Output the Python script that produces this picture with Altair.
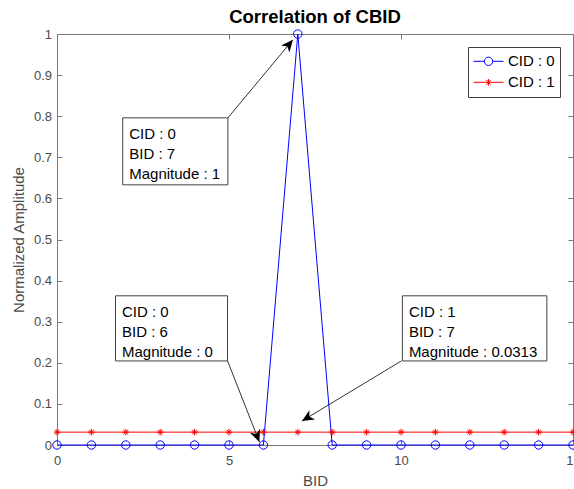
import math
import altair as alt
import pandas as pd

# ---------------- data ----------------
bid = [0, 1, 2, 3, 4, 5, 6, 7, 8, 9, 10, 11, 12, 13, 14, 15]
cid0 = [0, 0, 0, 0, 0, 0, 0, 1, 0, 0, 0, 0, 0, 0, 0, 0]
cid1 = [0.0313, 0.0313, 0.0313, 0.0313, 0.0313, 0.0313, 0.0313, 0.0313,
        0.0313, 0.0313, 0.0313, 0.0313, 0.0313, 0.0313, 0.0313, 0.0313]
series_labels = ["CID : 0", "CID : 1"]

x_ticks = [0, 5, 10, 15]
y_ticks = [0, 0.1, 0.2, 0.3, 0.4, 0.5, 0.6, 0.7, 0.8, 0.9, 1]

ann_text = ["CID : 0\nBID : 7\nMagnitude : 1",
            "CID : 0\nBID : 6\nMagnitude : 0",
            "CID : 1\nBID : 7\nMagnitude : 0.0313"]
ann_left = [1.91, 1.70, 10.04]
ann_right = [4.967, 4.958, 14.24]
ann_top = [0.796, 0.363, 0.363]
ann_bottom = [0.633, 0.2045, 0.2045]
tail_x = [4.967, 4.958, 10.01]
tail_y = [0.796, 0.2045, 0.2045]
tip_x = [6.858, 5.883, 7.12]
tip_y = [0.986, 0.0073, 0.0584]

# ---------------- layout ----------------
W, H = 516, 411
XMAX, YMAX = 15, 1
FONT = "Liberation Sans"
AX = "#7a7a7a"
TXT = "#4a4a4a"
BOX = "#404040"
BLUE = "#0000ff"
RED = "#ff0000"

df = pd.DataFrame({
    "BID": bid + bid,
    "Amp": cid0 + cid1,
    "CID": [series_labels[0]] * len(bid) + [series_labels[1]] * len(bid),
})

# arrow head orientation in screen space
angles = []
for tx0, ty0, tx1, ty1 in zip(tail_x, tail_y, tip_x, tip_y):
    dx = (tx1 - tx0) * W / XMAX
    dy = -(ty1 - ty0) * H / YMAX
    angles.append(math.degrees(math.atan2(dx, -dy)) % 360)

ann = pd.DataFrame({
    "text": ann_text, "left": ann_left, "right": ann_right,
    "top": ann_top, "bottom": ann_bottom,
    "tx": tail_x, "ty": tail_y, "hx": tip_x, "hy": tip_y, "angle": angles,
})

xs = alt.Scale(domain=[0, XMAX], nice=False, zero=False)
ys = alt.Scale(domain=[0, YMAX], nice=False, zero=False)

common_axis = dict(domain=False, grid=False, tickColor=AX, tickWidth=1,
                   tickSize=5, offset=-5, labelFont=FONT, labelFontSize=13,
                   labelColor=TXT, titleFont=FONT, titleFontSize=15,
                   titleColor=TXT, titleFontWeight="normal")

x_bottom = alt.Axis(orient="bottom", values=x_ticks, format="d", labelPadding=9,
                    labelFlush=False, title="BID", titleX=W / 2, titleY=45,
                    titleBaseline="alphabetic", **common_axis)
y_left = alt.Axis(orient="left", values=y_ticks, format="~g", labelPadding=5.5,
                  title="Normalized Amplitude", titleX=-38.7, titleY=H / 2,
                  titleAngle=270, titleBaseline="alphabetic", titleAlign="center",
                  **common_axis)
x_top = alt.Axis(orient="top", values=x_ticks, labels=False, title=None, **common_axis)
y_right = alt.Axis(orient="right", values=y_ticks, labels=False, title=None, **common_axis)

s0 = alt.datum.CID == series_labels[0]
s1 = alt.datum.CID == series_labels[1]

line0 = alt.Chart(df).transform_filter(s0).mark_line(color=BLUE, strokeWidth=1).encode(
    x=alt.X("BID:Q", scale=xs, axis=x_bottom),
    y=alt.Y("Amp:Q", scale=ys, axis=y_left),
)
pts0 = alt.Chart(df).transform_filter(s0).mark_point(
    shape="circle", size=70, filled=False, color=BLUE, strokeWidth=1, opacity=1).encode(
    x=alt.X("BID:Q", scale=xs, axis=x_top),
    y=alt.Y("Amp:Q", scale=ys, axis=y_right),
)
line1 = alt.Chart(df).transform_filter(s1).mark_line(color=RED, strokeWidth=1).encode(
    x=alt.X("BID:Q", scale=xs, axis=None),
    y=alt.Y("Amp:Q", scale=ys, axis=None),
)
STAR = "M-1,0L1,0M0,-1L0,1M-0.7,-0.7L0.7,0.7M-0.7,0.7L0.7,-0.7"
pts1 = alt.Chart(df).transform_filter(s1).mark_point(
    shape=STAR, size=45, filled=False, color=RED, strokeWidth=1, opacity=1).encode(
    x=alt.X("BID:Q", scale=xs, axis=None),
    y=alt.Y("Amp:Q", scale=ys, axis=None),
)

boxes = alt.Chart(ann).mark_rect(fill="white", stroke=BOX, strokeWidth=1).encode(
    x=alt.X("left:Q", scale=xs, axis=None), x2="right:Q",
    y=alt.Y("top:Q", scale=ys, axis=None), y2="bottom:Q",
)
texts = alt.Chart(ann).mark_text(
    align="left", baseline="top", dx=6.5, dy=9.3, lineBreak="\n", lineHeight=20,
    font=FONT, fontSize=15, color="black").encode(
    x=alt.X("left:Q", scale=xs, axis=None),
    y=alt.Y("top:Q", scale=ys, axis=None),
    text="text:N",
)
arrows = alt.Chart(ann).mark_rule(color="black", strokeWidth=0.8).encode(
    x=alt.X("tx:Q", scale=xs, axis=None), x2="hx:Q",
    y=alt.Y("ty:Q", scale=ys, axis=None), y2="hy:Q",
)
HEAD = "M0,0L-0.45,1L0,0.72L0.45,1Z"
heads = alt.Chart(ann).mark_point(
    shape=HEAD, size=576, filled=True, color="black", opacity=1, strokeWidth=0).encode(
    x=alt.X("hx:Q", scale=xs, axis=None),
    y=alt.Y("hy:Q", scale=ys, axis=None),
    angle=alt.Angle("angle:Q", scale=None),
)

CIRC_LEG = "M-1,0L-0.28,0M0.28,0L1,0M0.28,0A0.28,0.28,0,1,1,-0.28,0A0.28,0.28,0,1,1,0.28,0"
STAR_LEG = ("M-1,0L1,0M0,-0.22L0,0.22M-0.155,-0.155L0.155,0.155"
            "M-0.155,0.155L0.155,-0.155")
legend_layer = alt.Chart(df).transform_filter("datum.BID < 0").mark_point(
    filled=False, size=900, strokeWidth=1, opacity=1).encode(
    color=alt.Color("CID:N", scale=alt.Scale(domain=series_labels, range=[BLUE, RED]),
                    legend=alt.Legend(title=None)),
    shape=alt.Shape("CID:N", scale=alt.Scale(domain=series_labels, range=[CIRC_LEG, STAR_LEG]),
                    legend=alt.Legend(title=None)),
)

chart = alt.layer(line0, pts0, line1, pts1, boxes, texts, arrows, heads, legend_layer).resolve_axis(
    x="independent", y="independent"
).properties(
    width=W, height=H,
    title=alt.TitleParams("Correlation of CBID", font=FONT, fontSize=18.5,
                          fontWeight="bold", color="black", anchor="middle", offset=1),
    autosize=alt.AutoSizeParams(type="none"),
    padding={"left": 57, "top": 34, "right": 1, "bottom": 44},
).configure_view(
    stroke=AX, strokeWidth=1
).configure_legend(
    orient="top-right", offset=13, padding=5, strokeColor=BOX, fillColor="white",
    cornerRadius=0, labelFont=FONT, labelFontSize=15, labelColor="black",
    labelOffset=4, symbolSize=900, symbolStrokeWidth=1, clipHeight=18.6,
    rowPadding=2, symbolType="circle",
)

chart.save("out.html", embed_options={"renderer": "svg", "actions": False})
